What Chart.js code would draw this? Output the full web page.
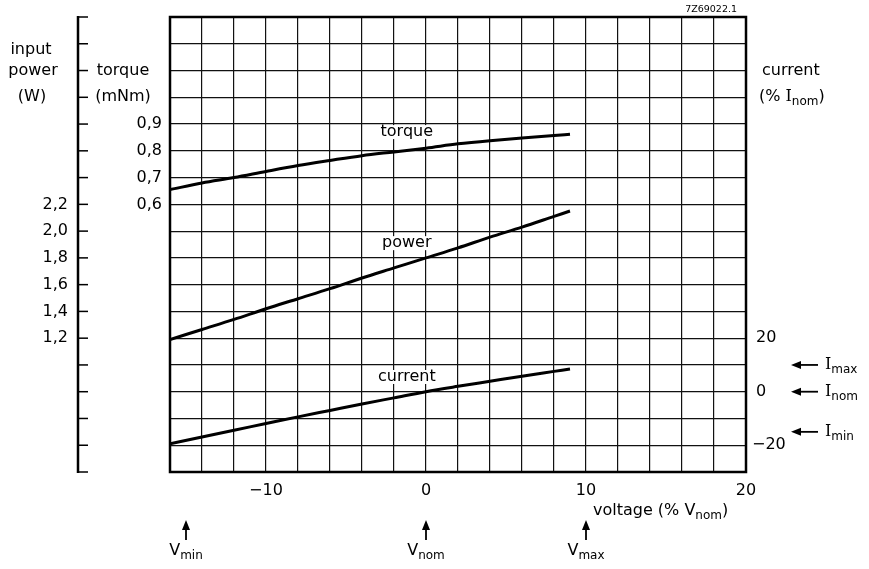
<!DOCTYPE html>
<html>
<head>
<meta charset="utf-8">
<script src="https://cdn.jsdelivr.net/npm/chart.js@4.4.1/dist/chart.umd.min.js"></script>
<style>
  body { margin: 0; background: #fff; }
  #wrap { width: 869px; height: 569px; position: relative; }
</style>
</head>
<body>
<div id="wrap"><canvas id="motorChart"></canvas></div>
<script>
// Motor characteristics vs supply voltage

// voltage deviation (% Vnom) where the curves were read
const voltage = [-16, -14, -12, -10, -8, -6, -4, -2, 0, 2, 4, 6, 8, 9];
// torque (mNm)
const torque = [0.655, 0.68, 0.70, 0.723, 0.745, 0.764, 0.782, 0.796, 0.81, 0.826, 0.838, 0.848, 0.857, 0.862];
// input power (W)
const power = [1.19, 1.265, 1.34, 1.42, 1.495, 1.57, 1.65, 1.725, 1.80, 1.875, 1.955, 2.03, 2.11, 2.15];
// current (% Inom)
const current = [-19.5, -16.9, -14.4, -11.9, -9.4, -7.0, -4.6, -2.3, 0, 2.0, 3.9, 5.8, 7.6, 8.5];

// tick labels
const powerTicks = [1.2, 1.4, 1.6, 1.8, 2.0, 2.2];
const torqueTicks = [0.6, 0.7, 0.8, 0.9];
const currentTicks = [20, 0, -20];
const voltageTicks = [-10, 0, 10, 20];
// marker arrows
const currentMarks = [['max', 10], ['nom', 0], ['min', -15]];
const voltageMarks = [['min', -15], ['nom', 0], ['max', 10]];

const F = '16px "DejaVu Sans"';
const FS = '12px "DejaVu Sans"';
const FI = '16px "DejaVu Serif"';

function fmt(v, digits) {
    return v.toFixed(digits).replace('.', ',').replace('-', '\u2212');
}

// draw a run of text pieces [text, font, dy]
function drawRuns(ctx, runs, x, y, align) {
    let total = 0;
    const widths = runs.map(r => { ctx.font = r[1]; const w = ctx.measureText(r[0]).width; total += w; return w; });
    let sx = x;
    if (align === 'center') sx = x - total / 2;
    if (align === 'right') sx = x - total;
    ctx.textAlign = 'left';
    ctx.textBaseline = 'middle';
    runs.forEach((r, i) => {
        ctx.font = r[1];
        ctx.fillText(r[0], sx, y + (r[2] || 0));
        sx += widths[i];
    });
}

function text(ctx, t, x, y, align) {
    ctx.font = F;
    ctx.textAlign = align;
    ctx.textBaseline = 'middle';
    ctx.fillText(t, x, y);
}

function label(ctx, t, x, y) {
    ctx.font = F;
    const w = ctx.measureText(t).width;
    ctx.fillStyle = '#fff';
    ctx.fillRect(x - w / 2 - 2, y - 7, w + 4, 14);
    ctx.fillStyle = '#000';
    text(ctx, t, x, y, 'center');
}

const decor = {
    id: 'decor',
    beforeDatasetsDraw(chart) {
        const { ctx, scales } = chart;
        const x = scales.x;
        ctx.save();
        label(ctx, 'torque', x.getPixelForValue(-1.2), scales.yt.getPixelForValue(0.87));
        label(ctx, 'power', x.getPixelForValue(-1.2), scales.yp.getPixelForValue(1.91));
        label(ctx, 'current', x.getPixelForValue(-1.2), scales.yc.getPixelForValue(5.5));
        ctx.restore();
    },
    afterDraw(chart) {
        const { ctx, chartArea: a, scales } = chart;
        const x = scales.x, yt = scales.yt, yp = scales.yp, yc = scales.yc;
        ctx.save();
        ctx.fillStyle = '#000';
        ctx.strokeStyle = '#000';

        // frame
        ctx.lineWidth = 2.5;
        ctx.strokeRect(a.left, a.top, a.right - a.left, a.bottom - a.top);

        // left ruler with ticks at every grid line
        ctx.beginPath();
        ctx.moveTo(78, a.top - 1);
        ctx.lineTo(78, a.bottom + 1);
        ctx.stroke();
        ctx.lineWidth = 1.5;
        yc.ticks.forEach(t => {
            const py = yc.getPixelForValue(t.value);
            ctx.beginPath();
            ctx.moveTo(78, py);
            ctx.lineTo(88, py);
            ctx.stroke();
        });

        // left titles
        text(ctx, 'input', 31, yc.getPixelForValue(120) - 21, 'center');
        text(ctx, 'power', 33, yc.getPixelForValue(120), 'center');
        text(ctx, '(W)', 32, yc.getPixelForValue(110), 'center');
        text(ctx, 'torque', 123, yc.getPixelForValue(120), 'center');
        text(ctx, '(mNm)', 123, yc.getPixelForValue(110), 'center');

        powerTicks.forEach(v => text(ctx, fmt(v, 1), 68, yp.getPixelForValue(v), 'right'));
        torqueTicks.forEach(v => text(ctx, fmt(v, 1), 162, yt.getPixelForValue(v), 'right'));

        // right titles and ticks
        text(ctx, 'current', 762, yc.getPixelForValue(120), 'left');
        drawRuns(ctx, [['(% ', F], ['I', FI], ['nom', FS, 5], [')', F]], 759, yc.getPixelForValue(110), 'left');
        currentTicks.forEach(v => text(ctx, fmt(v, 0), v < 0 ? 752 : 756, yc.getPixelForValue(v), 'left'));

        currentMarks.forEach(m => {
            const py = yc.getPixelForValue(m[1]);
            ctx.lineWidth = 1.8;
            ctx.beginPath();
            ctx.moveTo(799, py);
            ctx.lineTo(818, py);
            ctx.stroke();
            ctx.beginPath();
            ctx.moveTo(791, py);
            ctx.lineTo(801, py - 4);
            ctx.lineTo(801, py + 4);
            ctx.closePath();
            ctx.fill();
            drawRuns(ctx, [['I', FI], [m[0], FS, 5]], 825, py, 'left');
        });

        // x axis
        voltageTicks.forEach(v => text(ctx, fmt(v, 0), x.getPixelForValue(v), 491, 'center'));
        drawRuns(ctx, [['voltage (% V', F], ['nom', FS, 5], [')', F]], 593, 511, 'left');

        voltageMarks.forEach(m => {
            const px = x.getPixelForValue(m[1]);
            ctx.lineWidth = 1.8;
            ctx.beginPath();
            ctx.moveTo(px, 540);
            ctx.lineTo(px, 528);
            ctx.stroke();
            ctx.beginPath();
            ctx.moveTo(px, 520);
            ctx.lineTo(px - 4, 530);
            ctx.lineTo(px + 4, 530);
            ctx.closePath();
            ctx.fill();
            drawRuns(ctx, [['V', F], [m[0], FS, 5]], px, 551, 'center');
        });

        // drawing number
        ctx.font = '9.5px "DejaVu Sans"';
        ctx.textAlign = 'right';
        ctx.textBaseline = 'middle';
        ctx.fillText('7Z69022.1', 737, 10);
        ctx.restore();
    }
};

const pts = ys => voltage.map((v, i) => ({ x: v, y: ys[i] }));
const lineStyle = {
    borderColor: '#000',
    borderWidth: 3,
    pointRadius: 0,
    fill: false,
    cubicInterpolationMode: 'monotone'
};

new Chart(document.getElementById('motorChart'), {
    type: 'line',
    data: {
        datasets: [
            Object.assign({ label: 'torque', data: pts(torque), yAxisID: 'yt' }, lineStyle),
            Object.assign({ label: 'power', data: pts(power), yAxisID: 'yp' }, lineStyle),
            Object.assign({ label: 'current', data: pts(current), yAxisID: 'yc' }, lineStyle)
        ]
    },
    options: {
        responsive: true,
        maintainAspectRatio: false,
        animation: false,
        layout: { padding: { left: 170, right: 123, top: 17, bottom: 97 } },
        plugins: { legend: { display: false }, tooltip: { enabled: false } },
        scales: {
            x: {
                type: 'linear',
                min: -16,
                max: 20,
                ticks: { display: false, stepSize: 2 },
                grid: { color: '#111', lineWidth: 1.2, drawTicks: false },
                border: { display: false }
            },
            yc: {
                type: 'linear',
                position: 'right',
                min: -30,
                max: 140,
                ticks: { display: false, stepSize: 10 },
                grid: { color: '#111', lineWidth: 1.2, drawTicks: false },
                border: { display: false }
            },
            yt: { type: 'linear', display: false, min: -0.4, max: 1.3 },
            yp: { type: 'linear', display: false, min: 0.2, max: 3.6 }
        }
    },
    plugins: [decor]
});
</script>
</body>
</html>
